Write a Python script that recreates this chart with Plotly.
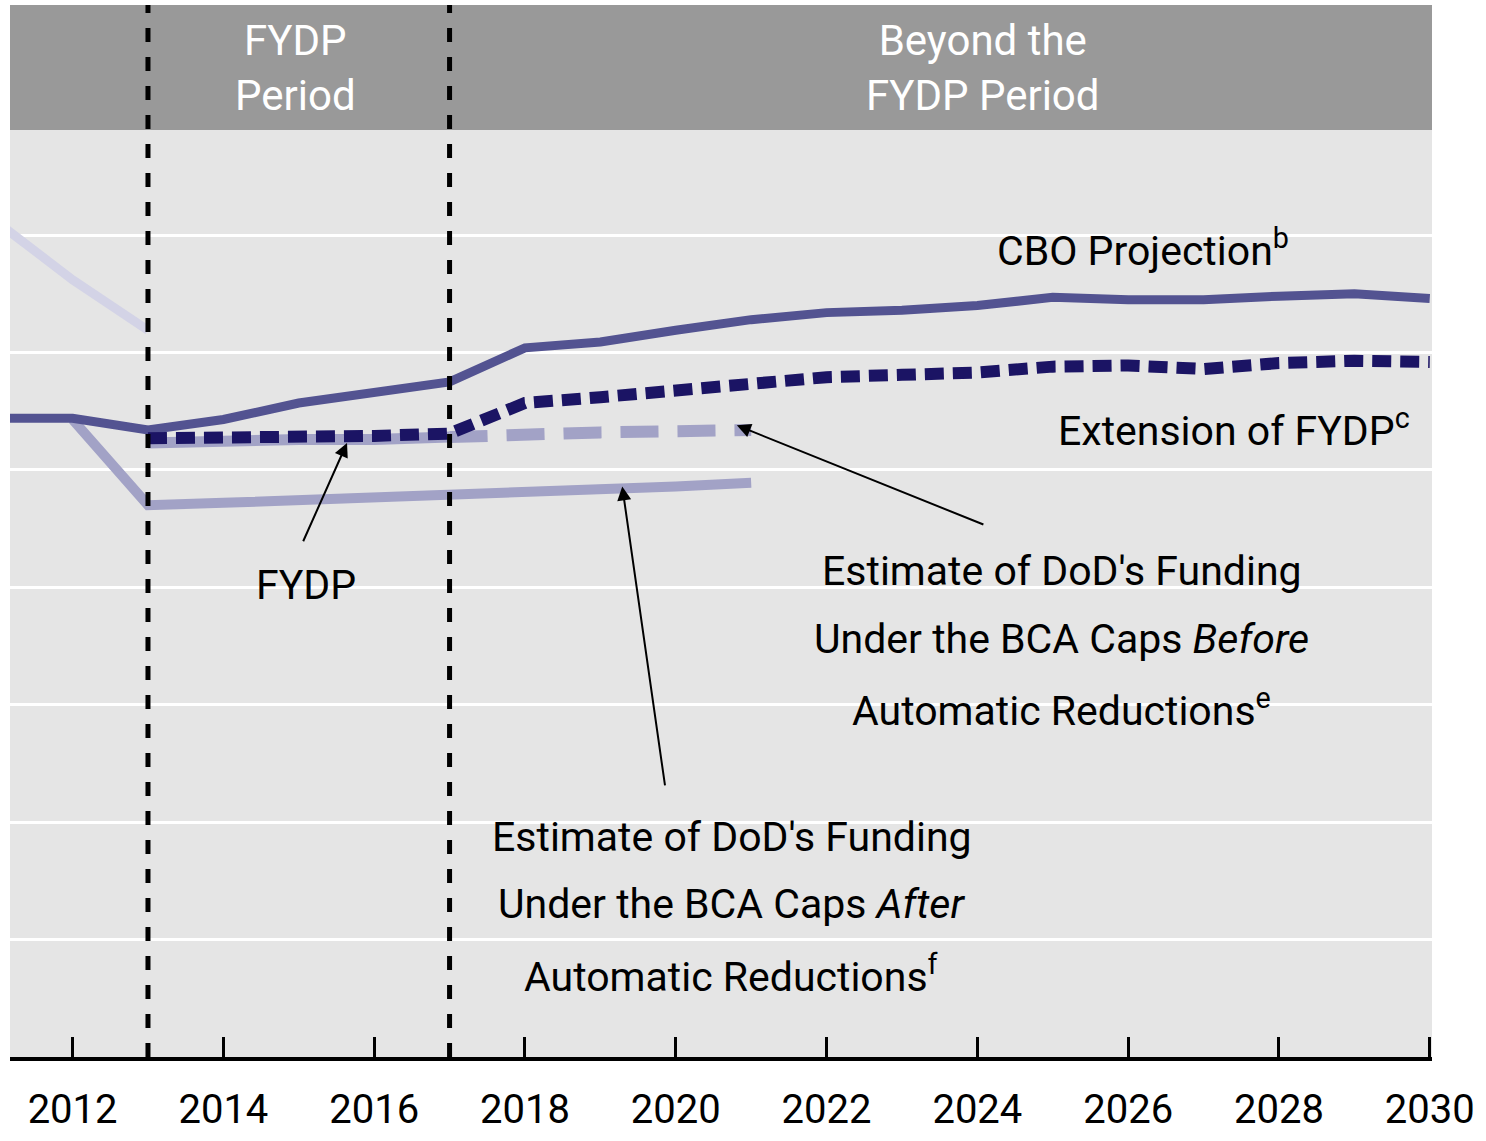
import plotly.graph_objects as go

# ---------------- data ----------------
years_all = [2011, 2012, 2013, 2014, 2015, 2016, 2017, 2018, 2019, 2020,
             2021, 2022, 2023, 2024, 2025, 2026, 2027, 2028, 2029, 2030]
cbo_projection = [5.44, 5.44, 5.34, 5.43, 5.57, 5.66, 5.75, 6.04, 6.09, 6.19,
                  6.28, 6.34, 6.36, 6.40, 6.47, 6.45, 6.45, 6.48, 6.50, 6.46]

history_years = [2011, 2012, 2013]
history_values = [7.11, 6.62, 6.19]

ext_years = [2013, 2014, 2015, 2016, 2017, 2018, 2019, 2020, 2021,
             2022, 2023, 2024, 2025, 2026, 2027, 2028, 2029, 2030]
ext_fydp = [5.27, 5.27, 5.28, 5.29, 5.31, 5.57, 5.62, 5.68, 5.75,
            5.79, 5.81, 5.83, 5.88, 5.89, 5.86, 5.91, 5.93, 5.92]

fydp_years = [2013, 2014, 2015, 2016, 2017]
fydp_values = [5.23, 5.25, 5.26, 5.26, 5.28]

bca_before_years = [2017, 2018, 2019, 2020, 2021]
bca_before_values = [5.28, 5.31, 5.32, 5.33, 5.34]

bca_after_years = [2012, 2013, 2014, 2015, 2016, 2017, 2018, 2019, 2020, 2021]
bca_after_values = [5.43, 4.70, 4.72, 4.74, 4.77, 4.79, 4.80, 4.83, 4.86, 4.89]

tick_years = [2012, 2014, 2016, 2018, 2020, 2022, 2024, 2026, 2028, 2030]
tick_labels = [str(y) for y in tick_years]
grid_values = [1, 2, 3, 4, 5, 6, 7]

# ---------------- style ----------------
FONT = "Roboto, Liberation Sans, sans-serif"
C_CBO = "#535391"
C_EXT = "#1B1464"
C_LIGHT = "#A2A2C6"
C_VLIGHT = "#D3D3E6"

fig = go.Figure()

fig.add_trace(go.Scatter(x=history_years, y=history_values, mode="lines",
                         line=dict(color=C_VLIGHT, width=9)))
fig.add_trace(go.Scatter(x=bca_after_years, y=bca_after_values, mode="lines",
                         line=dict(color=C_LIGHT, width=10)))
fig.add_trace(go.Scatter(x=fydp_years, y=fydp_values, mode="lines",
                         line=dict(color=C_LIGHT, width=11)))
fig.add_trace(go.Scatter(x=bca_before_years, y=bca_before_values, mode="lines",
                         line=dict(color=C_LIGHT, width=12, dash="38px,19px")))
fig.add_trace(go.Scatter(x=years_all, y=cbo_projection, mode="lines",
                         line=dict(color=C_CBO, width=9)))
fig.add_trace(go.Scatter(x=ext_years, y=ext_fydp, mode="lines",
                         line=dict(color=C_EXT, width=12, dash="19px,9px")))

shapes = [
    # header band
    dict(type="rect", xref="paper", yref="paper", x0=0, x1=1,
         y0=(1057 - 130) / 1052, y1=1, fillcolor="#999999",
         line=dict(width=0), layer="between"),
    # FYDP period boundaries
    dict(type="line", xref="x", yref="paper", x0=2013, x1=2013, y0=0, y1=1,
         line=dict(color="black", width=5, dash="14px,15px"), layer="above"),
    dict(type="line", xref="x", yref="paper", x0=2017, x1=2017, y0=0, y1=1,
         line=dict(color="black", width=5, dash="14px,15px"), layer="above"),
]

txt = dict(family=FONT, size=41, color="black")
hdr = dict(family=FONT, size=42, color="white")

annotations = [
    dict(x=2014.95, y=8.42, text="FYDP<br>Period", showarrow=False, font=hdr),
    dict(x=2024.07, y=8.42, text="Beyond the<br>FYDP Period", showarrow=False, font=hdr),
    dict(x=2026.2, y=6.89, text="CBO Projection<sup>b</sup>", showarrow=False, font=txt),
    dict(x=2027.4, y=5.36, text="Extension of FYDP<sup>c</sup>", showarrow=False, font=txt),
    dict(x=2025.12, y=4.14, text="Estimate of DoD's Funding", showarrow=False, font=txt),
    dict(x=2025.12, y=3.56, text="Under the BCA Caps <i>Before</i>", showarrow=False, font=txt),
    dict(x=2025.12, y=2.97, text="Automatic Reductions<sup>e</sup>", showarrow=False, font=txt),
    dict(x=2015.1, y=4.02, text="FYDP", showarrow=False, font=txt),
    dict(x=2020.74, y=1.87, text="Estimate of DoD's Funding", showarrow=False, font=txt),
    dict(x=2020.74, y=1.30, text="Under the BCA Caps <i>After</i>", showarrow=False, font=txt),
    dict(x=2020.74, y=0.71, text="Automatic Reductions<sup>f</sup>", showarrow=False, font=txt),
    # arrows
    dict(x=2015.64, y=5.23, ax=2015.05, ay=4.38, axref="x", ayref="y", xref="x", yref="y",
         text="", showarrow=True, arrowhead=2, arrowsize=1.4, arrowwidth=2, arrowcolor="black"),
    dict(x=2020.81, y=5.38, ax=2024.1, ay=4.53, axref="x", ayref="y", xref="x", yref="y",
         text="", showarrow=True, arrowhead=2, arrowsize=1.4, arrowwidth=2, arrowcolor="black"),
    dict(x=2019.29, y=4.86, ax=2019.86, ay=2.30, axref="x", ayref="y", xref="x", yref="y",
         text="", showarrow=True, arrowhead=2, arrowsize=1.4, arrowwidth=2, arrowcolor="black"),
]

fig.update_layout(
    width=1486, height=1141,
    margin=dict(l=10, r=54, t=5, b=84),
    paper_bgcolor="white", plot_bgcolor="#E5E5E5",
    showlegend=False,
    shapes=shapes, annotations=annotations,
    font=dict(family=FONT),
    xaxis=dict(range=[2011.17, 2030.03], tickmode="array", tickvals=tick_years,
               ticktext=tick_labels, ticks="inside", ticklen=20, tickwidth=3,
               tickcolor="black", showline=True, linecolor="black", linewidth=4,
               showgrid=False, zeroline=False, ticklabelstandoff=14,
               automargin=False,
               tickfont=dict(family=FONT, size=40, color="black")),
    yaxis=dict(range=[0, 8.96], tickmode="array", tickvals=grid_values,
               showticklabels=False, showgrid=True, gridcolor="white", gridwidth=3,
               zeroline=False, showline=False, ticks="", automargin=False),
)

fig.write_html("out.html", config={"displayModeBar": False},
               post_script="document.body.style.margin='0';document.body.style.overflow='hidden';")
